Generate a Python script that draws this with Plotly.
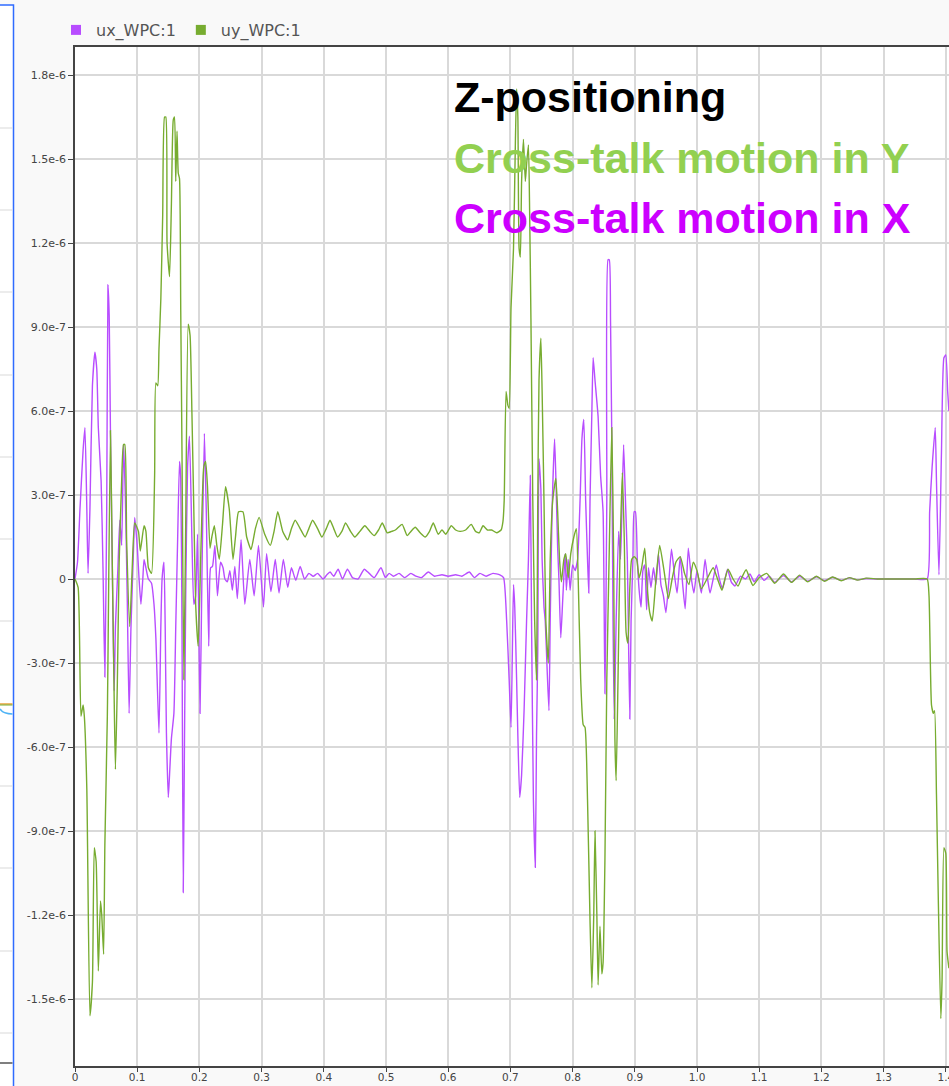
import numpy as np
import plotly.graph_objects as go

# Time stamps [s] and displacements [1e-7 m] of the two logged signals
t_uy = [
    0, 0.005, 0.0096, 0.013, 0.015, 0.019, 0.024, 0.028, 0.031, 0.034,
    0.0375, 0.041, 0.043, 0.046, 0.048, 0.052, 0.057, 0.060, 0.063, 0.065,
    0.068, 0.071, 0.075, 0.078, 0.080, 0.083, 0.088, 0.092, 0.096, 0.102,
    0.105, 0.111, 0.114, 0.118, 0.123, 0.128, 0.130, 0.133, 0.135, 0.138,
    0.141, 0.144, 0.146, 0.148, 0.152, 0.155, 0.158, 0.160, 0.162, 0.164,
    0.166, 0.168, 0.170, 0.172, 0.175, 0.178, 0.182, 0.185, 0.188, 0.191,
    0.194, 0.198, 0.203, 0.207, 0.210, 0.213, 0.217, 0.220, 0.224, 0.228,
    0.232, 0.237, 0.242, 0.248, 0.254, 0.258, 0.263, 0.270, 0.276, 0.283,
    0.290, 0.296, 0.305, 0.314, 0.320, 0.326, 0.334, 0.342, 0.348, 0.354,
    0.362, 0.370, 0.376, 0.382, 0.390, 0.397, 0.404, 0.410, 0.416, 0.422,
    0.429, 0.435, 0.443, 0.450, 0.458, 0.466, 0.474, 0.481, 0.488, 0.494,
    0.502, 0.509, 0.515, 0.520, 0.526, 0.534, 0.540, 0.547, 0.555, 0.563,
    0.570, 0.576, 0.584, 0.590, 0.596, 0.605, 0.612, 0.619, 0.628, 0.637,
    0.644, 0.650, 0.656, 0.663, 0.670, 0.678, 0.685, 0.688, 0.690, 0.693,
    0.696, 0.698, 0.701, 0.705, 0.708, 0.710, 0.712, 0.714, 0.716, 0.718,
    0.721, 0.724, 0.726, 0.729, 0.731, 0.733, 0.736, 0.739, 0.742, 0.744,
    0.746, 0.749, 0.751, 0.754, 0.757, 0.761, 0.764, 0.768, 0.773, 0.776,
    0.779, 0.782, 0.786, 0.789, 0.793, 0.797, 0.802, 0.806, 0.809, 0.813,
    0.817, 0.820, 0.824, 0.828, 0.831, 0.834, 0.836, 0.839, 0.841, 0.844,
    0.847, 0.849, 0.852, 0.855, 0.859, 0.863, 0.866, 0.868, 0.870, 0.873,
    0.876, 0.880, 0.883, 0.886, 0.889, 0.892, 0.895, 0.899, 0.903, 0.907,
    0.911, 0.916, 0.920, 0.924, 0.928, 0.934, 0.940, 0.947, 0.954, 0.960,
    0.966, 0.973, 0.980, 0.987, 0.994, 1.000, 1.007, 1.016, 1.026, 1.033,
    1.040, 1.045, 1.050, 1.058, 1.066, 1.072, 1.079, 1.085, 1.090, 1.100,
    1.112, 1.125, 1.139, 1.152, 1.165, 1.178, 1.192, 1.205, 1.218, 1.232,
    1.245, 1.258, 1.272, 1.290, 1.320, 1.350, 1.370, 1.373, 1.377, 1.380,
    1.382, 1.385, 1.388, 1.392, 1.394, 1.397, 1.400, 1.402, 1.405,
]
uy_e7 = [
    0, -0.3, -4.9, -4.5, -4.9, -7.5, -15.6, -14.4, -9.6, -10.1,
    -14.0, -11.5, -12.0, -13.4, -9.5, -4.9, 5.3, 0.5, -4.3, -6.8,
    -3.8, 0.6, 3.5, 4.8, 4.8, 1.4, -1.7, 0.4, 2.0, 1.7,
    1.0, 1.9, 1.7, 0.4, 0.2, 3.7, 7.0, 6.9, 8.2, 10.0,
    13.0, 16.5, 16.5, 12.0, 10.8, 13.4, 16.4, 16.5, 14.2, 16.0,
    14.5, 14.3, 9.6, 4.6, -3.6, 2.0, 9.1, 8.7, 5.9, 2.5,
    -0.9, -2.4, 1.5, 4.0, 4.2, 3.3, 1.1, 1.5, 1.9, 1.2,
    0.7, 1.9, 3.3, 2.5, 0.7, 1.5, 2.4, 2.4, 1.5, 1.05,
    1.8, 2.2, 1.6, 1.2, 1.7, 2.4, 1.7, 1.4, 1.8, 2.1,
    1.8, 1.5, 1.8, 2.1, 1.8, 1.5, 1.8, 2.1, 1.8, 1.5,
    1.7, 2.0, 1.7, 1.5, 1.7, 1.9, 1.7, 1.55, 1.75, 2.0,
    1.65, 1.7, 1.75, 1.85, 1.95, 1.55, 1.7, 1.85, 1.65, 1.5,
    1.7, 2.0, 1.6, 1.75, 1.6, 1.9, 1.75, 1.7, 1.75, 1.95,
    1.7, 1.65, 1.9, 1.75, 1.75, 1.65, 1.75, 2.05, 2.8, 6.7,
    6.2, 6.1, 9.7, 11.8, 15.6, 17.5, 16.5, 11.8, 11.5, 14.2,
    15.7, 14.2, 14.8, 15.5, 13.0, 9.3, 2.8, -1.5, -3.6, 2.8,
    7.1, 8.6, 6.7, 2.8, -1.5, -3.0, 0.7, 2.8, 3.6, 2.4,
    0.7, -0.1, 0.7, 0.9, 0.04, 0.9, 1.5, 1.8, 0.0, -3.6,
    -5.2, -5.3, -7.9, -12.2, -14.6, -12.0, -9.0, -12.0, -14.5, -12.4,
    -14.1, -13.7, -10.0, -3.6, 1.1, 5.4, 0.7, -5.7, -7.2, -3.6,
    0.7, 3.8, 1.5, -1.9, -2.3, -0.3, 0.7, 0.8, 0.7, 0.04,
    0.4, 1.1, -0.3, -1.2, -1.5, 0.0, 1.2, 0.3, -0.7, 0.0,
    0.6, 0.8, 0.2, -0.2, 0.6, 0.3, -0.35, 0.0, 0.4, 0.0,
    -0.4, 0.0, 0.35, 0.0, -0.25, 0.05, 0.33, 0.0, -0.23, 0.05,
    0.2, -0.15, 0.18, -0.12, 0.14, -0.1, 0.1, -0.08, 0.07, -0.06,
    0.05, -0.04, 0.03, 0.0, 0.0, 0.0, 0.0, -0.6, -4.5, -4.8,
    -4.7, -7.7, -11.5, -15.7, -14.3, -9.6, -9.8, -13.3, -13.9,
]

t_ux = [
    0, 0.004, 0.008, 0.013, 0.016, 0.019, 0.021, 0.024, 0.028, 0.032,
    0.035, 0.0375, 0.042, 0.045, 0.048, 0.051, 0.053, 0.055, 0.057, 0.060,
    0.063, 0.065, 0.069, 0.072, 0.075, 0.078, 0.081, 0.084, 0.087, 0.090,
    0.094, 0.096, 0.100, 0.103, 0.106, 0.109, 0.111, 0.114, 0.118, 0.123,
    0.127, 0.130, 0.135, 0.138, 0.140, 0.143, 0.145, 0.147, 0.150, 0.152,
    0.155, 0.159, 0.162, 0.165, 0.168, 0.170, 0.172, 0.174, 0.176, 0.178,
    0.181, 0.184, 0.188, 0.191, 0.194, 0.197, 0.201, 0.204, 0.208, 0.211,
    0.215, 0.218, 0.221, 0.225, 0.229, 0.234, 0.238, 0.241, 0.245, 0.249,
    0.253, 0.257, 0.261, 0.267, 0.273, 0.281, 0.288, 0.295, 0.303, 0.308,
    0.315, 0.322, 0.328, 0.335, 0.342, 0.348, 0.355, 0.362, 0.369, 0.376,
    0.383, 0.390, 0.399, 0.405, 0.410, 0.416, 0.423, 0.430, 0.438, 0.446,
    0.455, 0.465, 0.473, 0.481, 0.492, 0.499, 0.505, 0.512, 0.521, 0.530,
    0.540, 0.548, 0.557, 0.568, 0.578, 0.590, 0.600, 0.612, 0.622, 0.634,
    0.642, 0.651, 0.661, 0.672, 0.683, 0.689, 0.694, 0.698, 0.701, 0.703,
    0.705, 0.707, 0.710, 0.712, 0.715, 0.718, 0.722, 0.726, 0.729, 0.732,
    0.734, 0.737, 0.740, 0.742, 0.744, 0.746, 0.749, 0.751, 0.754, 0.756,
    0.759, 0.762, 0.764, 0.767, 0.771, 0.773, 0.776, 0.778, 0.781, 0.784,
    0.788, 0.790, 0.793, 0.796, 0.800, 0.804, 0.808, 0.812, 0.815, 0.818,
    0.821, 0.824, 0.826, 0.828, 0.831, 0.833, 0.836, 0.841, 0.845, 0.849,
    0.852, 0.855, 0.857, 0.859, 0.861, 0.863, 0.865, 0.867, 0.870, 0.874,
    0.877, 0.879, 0.882, 0.885, 0.888, 0.890, 0.892, 0.894, 0.897, 0.899,
    0.901, 0.904, 0.907, 0.910, 0.913, 0.916, 0.919, 0.922, 0.926, 0.930,
    0.934, 0.938, 0.942, 0.946, 0.950, 0.955, 0.959, 0.964, 0.968, 0.973,
    0.977, 0.981, 0.986, 0.991, 0.995, 1.000, 1.007, 1.013, 1.017, 1.021,
    1.026, 1.031, 1.036, 1.041, 1.049, 1.055, 1.061, 1.070, 1.078, 1.085,
    1.092, 1.100, 1.108, 1.116, 1.125, 1.139, 1.152, 1.165, 1.178, 1.192,
    1.205, 1.218, 1.232, 1.245, 1.258, 1.272, 1.290, 1.320, 1.350, 1.370,
    1.374, 1.378, 1.383, 1.385, 1.389, 1.393, 1.397, 1.400, 1.403, 1.405,
]
ux_e7 = [
    0, 0.6, 2.5, 4.6, 5.4, 2.5, 0.2, 2.5, 6.9, 8.1,
    7.5, 5.4, 3.5, 0.4, -3.5, 2.5, 10.5, 9.4, 5.2, 0.4,
    -4.0, -1.7, 0.4, 2.1, 1.2, 4.8, 2.9, -0.7, -4.8, -1.7,
    1.0, 2.2, 1.2, 0.0, -0.9, 0.0, 0.7, 0.4, 0.0, -0.15,
    -0.9, -2.1, -5.5, -1.7, 0.0, 0.6, -1.7, -5.5, -7.8, -7.0,
    -5.7, -4.8, -1.7, 1.4, 4.2, 3.6, -1.7, -11.2, -5.9, -0.6,
    4.0, 5.1, 1.4, -0.9, -0.6, 1.6, -4.8, 0.0, 5.2, 2.5,
    -2.4, 0.4, 0.45, 1.2, -0.6, 0.6, 0.4, 0.0, -0.1, 0.3,
    -0.4, 0.45, -0.7, 1.4, -0.9, 0.7, -0.6, 1.2, -1.0, 0.9,
    -0.45, 0.7, -0.5, 0.7, -0.3, 0.4, -0.05, 0.45, 0.0, 0.2,
    0.1, 0.2, 0.0, 0.15, 0.25, 0.1, 0.35, 0.0, 0.35, 0.05,
    0.0, 0.35, 0.2, 0.05, 0.4, 0.05, 0.2, 0.1, 0.2, 0.05,
    0.2, 0.1, 0.05, 0.25, 0.1, 0.15, 0.1, 0.15, 0.1, 0.25,
    0.05, 0.2, 0.1, 0.2, 0.15, 0.05, -1.5, -3.6, -5.3, -2.8,
    -0.2, -1.0, -3.6, -5.6, -7.8, -7.0, -4.7, -1.5, 0.7, 3.7,
    -1.5, -7.9, -10.3, -5.6, -2.6, 4.3, 3.2, 0.7, -1.0, -1.5,
    -3.2, -4.7, -1.5, 2.4, 5.0, 3.7, 1.1, 0.0, -2.1, -0.8,
    0.9, -0.4, 0.7, -0.4, 0.5, 0.3, 0.7, 2.8, 5.0, 5.7,
    2.8, 0.7, -0.5, 2.8, 6.0, 7.9, 7.1, 5.8, 3.7, 2.4,
    -4.1, 2.8, 11.4, 11.4, 9.2, 5.0, -1.5, -5.0, -1.5, 1.7,
    0.7, 2.2, 4.8, 2.8, 0.7, -2.3, -5.0, -1.5, 0.7, 2.4,
    2.4, 0.7, -0.4, -1.0, 0.3, 0.5, -1.1, 0.4, -0.3, 0.4,
    -0.2, 0.9, -0.2, -0.6, -1.2, 0.0, 1.06, 0.1, -0.5, 0.8,
    -0.2, -1.06, 1.1, 0.0, -0.5, 0.3, -0.5, 0.7, 0.0, -0.5,
    0.0, 0.5, 0.0, -0.35, 0.35, -0.1, -0.25, 0.1, 0.0, 0.18,
    -0.1, 0.15, -0.05, 0.1, -0.12, 0.12, -0.1, 0.1, -0.08, 0.08,
    -0.06, 0.06, -0.05, 0.04, -0.03, 0.02, 0.0, 0.0, 0.0, 0.0,
    2.4, 4.0, 5.4, 3.5, 0.15, 4.5, 7.9, 8.0, 6.7, 6.0,
]

assert len(t_uy) == len(uy_e7)
assert len(t_ux) == len(ux_e7)

series_names = ["ux_WPC:1", "uy_WPC:1"]
series_colors = ["#b84dff", "#77ac30"]

y_tick_vals = [-1.5e-6, -1.2e-6, -9e-7, -6e-7, -3e-7, 0, 3e-7, 6e-7, 9e-7, 1.2e-6, 1.5e-6, 1.8e-6]
y_tick_text = ["-1.5e-6", "-1.2e-6", "-9.0e-7", "-6.0e-7", "-3.0e-7", "0",
               "3.0e-7", "6.0e-7", "9.0e-7", "1.2e-6", "1.5e-6", "1.8e-6"]
x_tick_vals = [0, 0.1, 0.2, 0.3, 0.4, 0.5, 0.6, 0.7, 0.8, 0.9, 1.0, 1.1, 1.2, 1.3, 1.4]
x_tick_text = ["0", "0.1", "0.2", "0.3", "0.4", "0.5", "0.6", "0.7", "0.8", "0.9",
               "1.0", "1.1", "1.2", "1.3", "1.4"]

annotation_lines = [
    ("Z-positioning", "#000000"),
    ("Cross-talk motion in Y", "#92d050"),
    ("Cross-talk motion in X", "#cc00ff"),
]

W, H = 949, 1086
ML, MT, MB = 75, 47, 20
plot_w = W - ML
plot_h = H - MT - MB


def px_x(px):
    return (px - ML) / plot_w


def px_y(py):
    return (H - MB - py) / plot_h


fig = go.Figure()

scale = 1e-7
fig.add_trace(go.Scatter(x=t_ux, y=np.array(ux_e7) * scale, mode="lines",
                         line=dict(color=series_colors[0], width=1.4, shape="spline", smoothing=0.5),
                         showlegend=False, name=series_names[0]))
fig.add_trace(go.Scatter(x=t_uy, y=np.array(uy_e7) * scale, mode="lines",
                         line=dict(color=series_colors[1], width=1.4, shape="spline", smoothing=0.5),
                         showlegend=False, name=series_names[1]))

# square legend swatches
for name, color in zip(series_names, series_colors):
    fig.add_trace(go.Scatter(x=[None], y=[None], mode="markers", name=name,
                             marker=dict(symbol="square", size=10, color=color)))

annotations = []
for i, (text, color) in enumerate(annotation_lines):
    annotations.append(dict(
        text=f"<b>{text}</b>", xref="paper", yref="paper",
        x=px_x(452), y=px_y(97 + 60.5 * i), xanchor="left", yanchor="middle",
        showarrow=False, font=dict(family="Liberation Sans, Arial", size=43, color=color),
    ))

# neighbouring panel strip on the left edge
shapes = [
    dict(type="rect", xref="paper", yref="paper", x0=px_x(-5), x1=px_x(13.5),
         y0=px_y(H + 5), y1=px_y(5), fillcolor="#ffffff",
         line=dict(color="#2f6bff", width=1.5), layer="below"),
]
for gy in [128, 210, 292, 375, 457, 539, 621, 786, 868, 951, 1033]:
    shapes.append(dict(type="line", xref="paper", yref="paper", x0=px_x(0), x1=px_x(12.5),
                       y0=px_y(gy), y1=px_y(gy), line=dict(color="#d9d9d9", width=1)))
shapes.append(dict(type="line", xref="paper", yref="paper", x0=px_x(0), x1=px_x(12.5),
                   y0=px_y(704), y1=px_y(704), line=dict(color="#e8a33d", width=1.5)))
shapes.append(dict(type="line", xref="paper", yref="paper", x0=px_x(0), x1=px_x(12.5),
                   y0=px_y(705), y1=px_y(705), line=dict(color="#77ac30", width=1)))
shapes.append(dict(type="path", xref="paper", yref="paper",
                   path=f"M {px_x(0)},{px_y(709)} Q {px_x(3)},{px_y(714)} {px_x(12.5)},{px_y(714)}",
                   line=dict(color="#4db3f5", width=1.5)))
shapes.append(dict(type="line", xref="paper", yref="paper", x0=px_x(0), x1=px_x(12.5),
                   y0=px_y(1063), y1=px_y(1063), line=dict(color="#555555", width=1.5)))

fig.update_layout(
    width=W, height=H,
    margin=dict(l=ML, r=0, t=MT, b=MB, pad=0, autoexpand=False),
    paper_bgcolor="#f9f9f9",
    plot_bgcolor="#ffffff",
    font=dict(family="DejaVu Sans, Arial", size=11, color="#444444"),
    showlegend=True,
    legend=dict(orientation="h", x=px_x(56), y=px_y(13), xanchor="left", yanchor="top",
                bgcolor="rgba(0,0,0,0)", font=dict(family="DejaVu Sans", size=16, color="#555555"),
                itemclick=False),
    annotations=annotations,
    shapes=shapes,
    xaxis=dict(range=[0, (W - ML) / 622.0], tickvals=x_tick_vals, ticktext=x_tick_text,
               automargin=False,
               showgrid=True, gridcolor="#d9d9d9", gridwidth=1.5, zeroline=False,
               showline=True, linecolor="#444444", linewidth=1.5, mirror=True,
               ticks="outside", ticklen=4, tickcolor="#444444", ticklabeloverflow="allow",
               ticklabelstandoff=-3,
               tickfont=dict(family="DejaVu Sans", size=10.5, color="#444444")),
    yaxis=dict(range=[-(H - MB - 579) / 84 * 3e-7, (579 - MT) / 84 * 3e-7],
               tickvals=y_tick_vals, ticktext=y_tick_text, automargin=False,
               showgrid=True, gridcolor="#d9d9d9", gridwidth=1.5, zeroline=False,
               showline=True, linecolor="#444444", linewidth=1.5, mirror=False,
               ticks="outside", ticklen=5, tickcolor="#444444",
               tickfont=dict(family="DejaVu Sans", size=11, color="#444444")),
)

fig.write_html("out.html")
